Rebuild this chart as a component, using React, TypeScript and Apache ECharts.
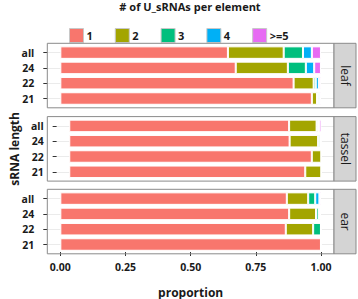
import React, { useEffect, useRef } from "react";
import * as echarts from "echarts";

const categories = ["all", "24", "22", "21"];
const panels = ["leaf", "tassel", "ear"];
const groups = ["1", "2", "3", "4", ">=5"];
const colors = ["#F8766D", "#A3A500", "#00BF7D", "#00B0F6", "#E76BF3"];
const xTicks = [0, 0.25, 0.5, 0.75, 1];

// rows: [all, 24, 22, 21]; one array per group (1, 2, 3, 4, >=5)
const leaf = [
  [0.643, 0.673, 0.895, 0.965],
  [0.214, 0.2, 0.077, 0.02],
  [0.074, 0.069, 0.008, 0.005],
  [0.034, 0.032, 0.012, 0.005],
  [0.035, 0.026, 0.008, 0.005],
];
const tassel = [
  [0.872, 0.874, 0.962, 0.936],
  [0.109, 0.113, 0.038, 0.064],
  [0.006, 0.008, 0, 0],
  [0.004, 0.003, 0, 0],
  [0.009, 0.002, 0, 0],
];
const ear = [
  [0.869, 0.878, 0.865, 1.0],
  [0.082, 0.103, 0.105, 0],
  [0.027, 0.01, 0.03, 0],
  [0.016, 0.005, 0, 0],
  [0.006, 0.004, 0, 0],
];
const panelData = [leaf, tassel, ear];

const W = 358;
const H = 299;
const panelLeft = 47.3;
const panelRight = 334;
const panelTops = [43.3, 116.6, 189.3];
const panelH = 64.5;
const inset = 9.3;
const font = "'Open Sans', 'Noto Sans', sans-serif";

export default function App() {
  const ref = useRef<HTMLDivElement>(null);
  useEffect(() => {
    if (!ref.current) return;
    const chart = echarts.init(ref.current, undefined, { renderer: "svg" });
    const grids: any[] = [];
    const xAxes: any[] = [];
    const yAxes: any[] = [];
    const series: any[] = [];
    const graphics: any[] = [];

    panels.forEach((p, i) => {
      const top = panelTops[i];
      grids.push({
        left: panelLeft,
        width: panelRight - panelLeft,
        top: top + inset,
        height: panelH - 2 * inset,
      });
      xAxes.push({
        type: "value",
        gridIndex: i,
        min: -0.05,
        max: 1.05,
        axisLabel: { show: false },
        axisTick: { show: false },
        axisLine: { show: false, onZero: false },
        splitLine: { show: false },
      });
      yAxes.push({
        type: "category",
        gridIndex: i,
        data: categories,
        inverse: true,
        boundaryGap: false,
        axisLine: { show: false, onZero: false },
        axisTick: { show: true, length: 4, lineStyle: { color: "#333" } },
        axisLabel: {
          margin: 13,
          color: "#1a1a1a",
          fontWeight: "bold",
          fontSize: 10.5,
          fontFamily: font,
        },
        splitLine: { show: true, lineStyle: { color: "#ebebeb", width: 1 } },
        name: i === 1 ? "sRNA length" : "",
        nameLocation: "middle",
        nameGap: 33,
        nameTextStyle: {
          color: "#1a1a1a",
          fontWeight: "bold",
          fontSize: 12,
          fontFamily: font,
        },
      });
      groups.forEach((g, k) => {
        series.push({
          type: "bar",
          name: g,
          xAxisIndex: i,
          yAxisIndex: i,
          stack: p,
          barWidth: 12.5,
          data: panelData[i][k],
          itemStyle: { color: colors[k], borderColor: "#ffffff", borderWidth: 1 },
          emphasis: { disabled: true },
        });
      });
      graphics.push({
        type: "rect",
        shape: { x: panelLeft, y: top, width: panelRight - panelLeft, height: panelH },
        style: { fill: "none", stroke: "#8a8a8a", lineWidth: 1 },
        z: 10,
      });
      graphics.push({
        type: "rect",
        shape: { x: panelRight, y: top, width: 22, height: panelH },
        style: { fill: "#d4d4d4", stroke: "#8a8a8a", lineWidth: 1 },
        z: 10,
      });
      graphics.push({
        type: "text",
        x: panelRight + 11,
        y: top + panelH / 2,
        rotation: -Math.PI / 2,
        style: {
          text: p,
          fill: "#1a1a1a",
          fontSize: 12,
          fontFamily: font,
          align: "center",
          verticalAlign: "middle",
        },
        z: 11,
      });
    });

    // axis grid for tick labels (0..1)
    const x0 = panelLeft + (0.05 / 1.1) * (panelRight - panelLeft);
    const x1 = panelLeft + (1.05 / 1.1) * (panelRight - panelLeft);
    grids.push({ left: x0, width: x1 - x0, top: panelTops[2], height: panelH });
    xAxes.push({
      type: "value",
      gridIndex: 3,
      min: 0,
      max: 1,
      interval: 0.25,
      axisLine: { show: false, onZero: false },
      axisTick: { show: true, length: 4, lineStyle: { color: "#333" } },
      splitLine: { show: false },
      axisLabel: {
        margin: 9,
        color: "#1a1a1a",
        fontWeight: "bold",
        fontSize: 10.5,
        fontFamily: font,
        formatter: (v: number) => v.toFixed(2),
        customValues: xTicks,
      },
      name: "proportion",
      nameLocation: "middle",
      nameGap: 34,
      nameTextStyle: {
        color: "#1a1a1a",
        fontWeight: "bold",
        fontSize: 12,
        fontFamily: font,
      },
    });
    yAxes.push({ type: "value", gridIndex: 3, show: false });

    graphics.push({
      type: "text",
      x: 190,
      y: 6,
      style: {
        text: "# of U_sRNAs per element",
        fill: "#1a1a1a",
        fontSize: 11,
        fontWeight: "bold",
        fontFamily: font,
        align: "center",
        verticalAlign: "middle",
      },
    });

    chart.setOption({
      animation: false,
      grid: grids,
      xAxis: xAxes,
      yAxis: yAxes,
      series,
      graphic: graphics,
      legend: {
        data: groups,
        left: 64,
        top: 23,
        itemWidth: 14,
        itemHeight: 14,
        itemGap: 22,
        icon: "rect",
        selectedMode: false,
        itemStyle: { borderColor: "#c8c8c8", borderWidth: 1 },
        textStyle: {
          color: "#1a1a1a",
          fontWeight: "bold",
          fontSize: 11,
          fontFamily: font,
          padding: [0, 0, 0, -2],
        },
      },
    });
    return () => chart.dispose();
  }, []);
  return (
    <div
      ref={ref}
      style={{ position: "fixed", left: 0, top: 0, width: W, height: H, background: "#fff" }}
    />
  );
}
